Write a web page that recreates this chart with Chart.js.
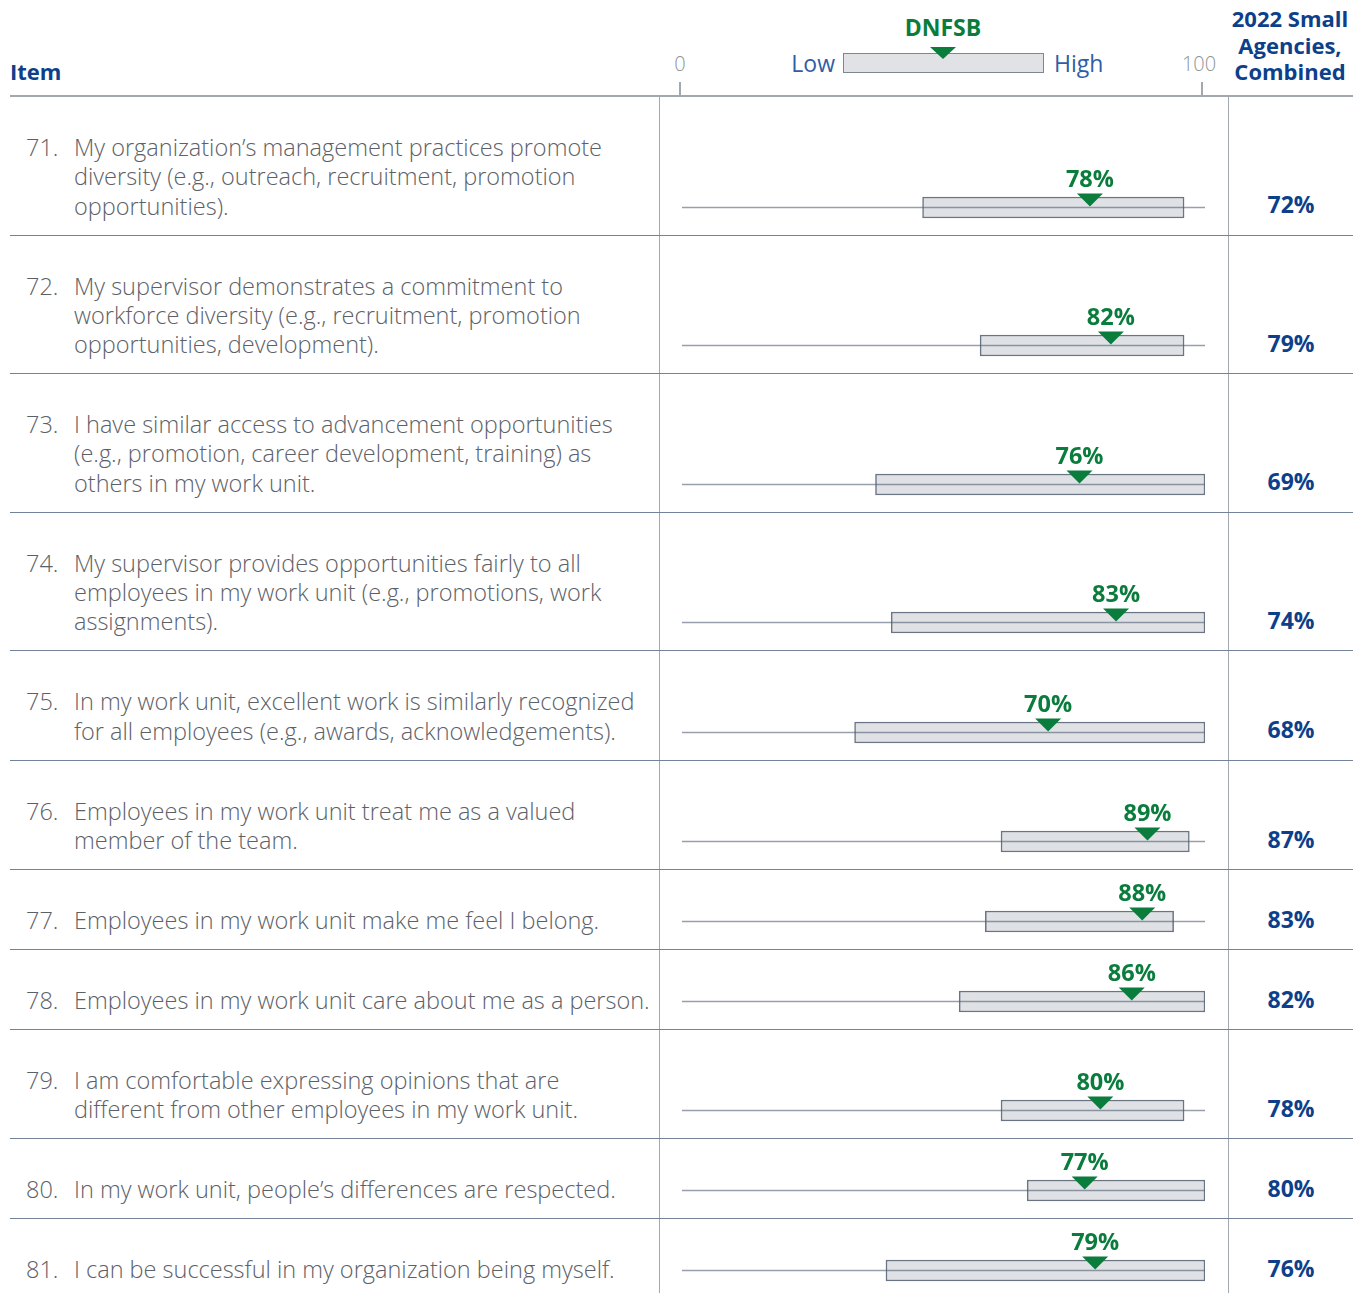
<!DOCTYPE html>
<html>
<head>
<meta charset="utf-8">
<script src="https://cdn.jsdelivr.net/npm/chart.js@4.4.1/dist/chart.umd.min.js"></script>
<style>
  body { margin: 0; background: #fff; font-family: "Open Sans", sans-serif; }
  #page { position: relative; width: 1355px; height: 1293px; overflow: hidden; }
  .hd { position: absolute; white-space: nowrap; }
  #header { position: absolute; left: 0; top: 0; width: 1355px; height: 96px; }
  #headerLine { position: absolute; left: 10px; top: 95px; width: 1343px; height: 2px; background: #a3a8ae; }
  .tick { position: absolute; top: 82px; width: 1.5px; height: 14px; background: #a3a8ae; }
  #rows { position: absolute; left: 10px; top: 97px; width: 1343px; }
  .row { display: grid; grid-template-columns: 649px 569px 125px; border-bottom: 1.5px solid #74839a; }
  .txt { display: flex; padding: 36px 0 13.7px 16px; font-size: 23.5px; line-height: 29.3px; color: #5c6168; font-weight: 300; white-space: nowrap; }
  .num { width: 48px; flex: none; }
  .cell { position: relative; border-left: 1.5px solid #a3a8ae; }
  .cell canvas { position: absolute; left: 0; bottom: 0; }
  .comb { border-left: 1.5px solid #a3a8ae; display: flex; align-items: flex-end; justify-content: center;
          padding-bottom: 15px; font-size: 23px; line-height: 29.3px; font-weight: 700; color: #0d3f8b; }
</style>
</head>
<body>
<div id="page">
  <div id="header">
    <div class="hd" style="left:10px;top:56px;font-size:22px;font-weight:700;color:#0d3f8b;">Item</div>
    <div class="hd" style="left:670px;top:50px;width:20px;text-align:center;font-size:20px;font-weight:300;color:#8e949b;">0</div>
    <div class="hd" style="left:1174px;top:50px;width:50px;text-align:center;font-size:20px;font-weight:300;color:#8e949b;">100</div>
    <div class="tick" style="left:679px;"></div>
    <div class="tick" style="left:1201px;"></div>
    <div class="hd" style="left:873px;top:11px;width:140px;text-align:center;font-size:23px;font-weight:700;color:#0a7d3d;">DNFSB</div>
    <div class="hd" style="left:760px;top:47px;width:75px;text-align:right;font-size:23px;color:#2f5ea6;">Low</div>
    <div class="hd" style="left:1054px;top:47px;font-size:23px;color:#2f5ea6;">High</div>
    <div class="hd" style="left:843px;top:53px;width:199px;height:18px;background:#e0e2e6;border:1.5px solid #7d8691;"></div>
    <div class="hd" style="left:930px;top:47px;width:0;height:0;border-left:13px solid transparent;border-right:13px solid transparent;border-top:12px solid #0a7d3d;"></div>
    <div class="hd" style="left:1220px;top:5px;width:140px;text-align:center;font-size:22px;line-height:26.5px;font-weight:700;color:#0d3f8b;">2022 Small<br>Agencies,<br>Combined</div>
    <div id="headerLine"></div>
  </div>
  <div id="rows"></div>
</div>
<script>
const itemNumbers = ['71.', '72.', '73.', '74.', '75.', '76.', '77.', '78.', '79.', '80.', '81.'];
const itemLines = [
  ['My organization\u2019s management practices promote', 'diversity (e.g., outreach, recruitment, promotion', 'opportunities).'],
  ['My supervisor demonstrates a commitment to', 'workforce diversity (e.g., recruitment, promotion', 'opportunities, development).'],
  ['I have similar access to advancement opportunities', '(e.g., promotion, career development, training) as', 'others in my work unit.'],
  ['My supervisor provides opportunities fairly to all', 'employees in my work unit (e.g., promotions, work', 'assignments).'],
  ['In my work unit, excellent work is similarly recognized', 'for all employees (e.g., awards, acknowledgements).'],
  ['Employees in my work unit treat me as a valued', 'member of the team.'],
  ['Employees in my work unit make me feel I belong.'],
  ['Employees in my work unit care about me as a person.'],
  ['I am comfortable expressing opinions that are', 'different from other employees in my work unit.'],
  ['In my work unit, people\u2019s differences are respected.'],
  ['I can be successful in my organization being myself.']
];
const lowValues = [46, 57, 37, 40, 33, 61, 58, 53, 61, 66, 39];
const highValues = [96, 96, 100, 100, 100, 97, 94, 100, 96, 100, 100];
const dnfsbValues = [78, 82, 76, 83, 70, 89, 88, 86, 80, 77, 79];
const combinedValues = [72, 79, 69, 74, 68, 87, 83, 82, 78, 80, 76];

const green = '#0a7d3d';
const rowsEl = document.getElementById('rows');

itemNumbers.forEach((num, i) => {
  const row = document.createElement('div');
  row.className = 'row';

  const txt = document.createElement('div');
  txt.className = 'txt';
  txt.innerHTML = '<span class="num">' + num + '</span><span>' + itemLines[i].join('<br>') + '</span>';

  const cell = document.createElement('div');
  cell.className = 'cell';
  const canvas = document.createElement('canvas');
  canvas.width = 567;
  canvas.height = 70;
  cell.appendChild(canvas);

  const comb = document.createElement('div');
  comb.className = 'comb';
  comb.textContent = combinedValues[i] + '%';

  row.append(txt, cell, comb);
  rowsEl.appendChild(row);

  // range line + DNFSB marker, drawn from the chart scales
  const marker = {
    id: 'marker' + i,
    afterDatasetsDraw(chart) {
      const { ctx, scales: { x } } = chart;
      const bar = chart.getDatasetMeta(0).data[0];
      const y = bar.y;
      ctx.save();
      ctx.strokeStyle = 'rgba(80, 95, 115, 0.6)';
      ctx.lineWidth = 1.5;
      ctx.beginPath();
      ctx.moveTo(x.getPixelForValue(0), y);
      ctx.lineTo(x.getPixelForValue(100), y);
      ctx.stroke();

      const px = x.getPixelForValue(dnfsbValues[i]);
      ctx.fillStyle = green;
      ctx.beginPath();
      ctx.moveTo(px - 13, y - 14);
      ctx.lineTo(px + 13, y - 14);
      ctx.lineTo(px, y - 1);
      ctx.closePath();
      ctx.fill();

      ctx.font = 'bold 23.5px "Open Sans"';
      ctx.textAlign = 'center';
      ctx.textBaseline = 'alphabetic';
      ctx.fillText(dnfsbValues[i] + '%', px, y - 21);
      ctx.restore();
    }
  };

  new Chart(canvas, {
    type: 'bar',
    data: {
      labels: [num],
      datasets: [{
        data: [[lowValues[i], highValues[i]]],
        backgroundColor: '#dfe1e5',
        borderColor: '#6a7483',
        borderWidth: 1.5,
        borderSkipped: false,
        barThickness: 21
      }]
    },
    options: {
      indexAxis: 'y',
      responsive: false,
      animation: false,
      layout: { padding: { left: 22, right: 22, top: 30, bottom: 15 } },
      scales: {
        x: { min: 0, max: 100, display: false },
        y: { display: false }
      },
      plugins: { legend: { display: false }, tooltip: { enabled: false } }
    },
    plugins: [marker]
  });
});
</script>
</body>
</html>
